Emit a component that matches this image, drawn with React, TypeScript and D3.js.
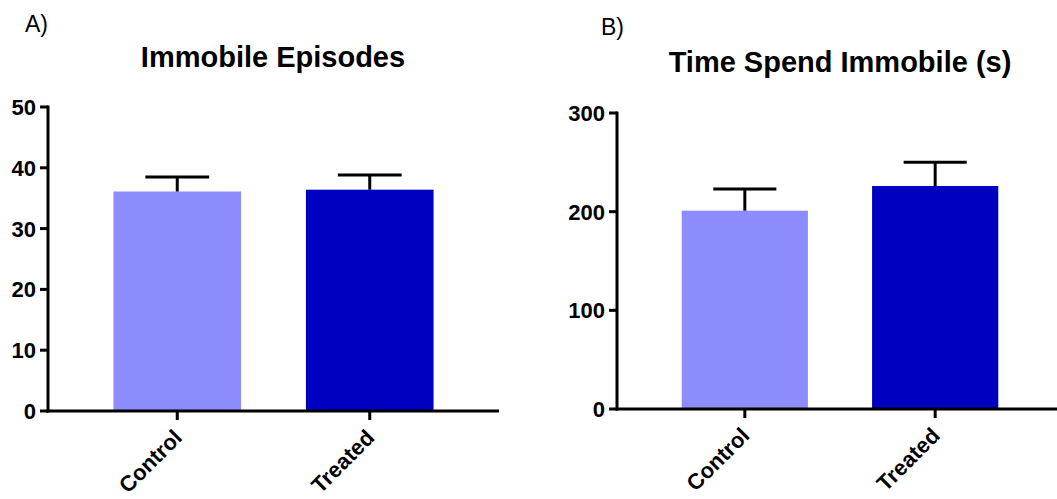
import React from "react";
import { scaleBand, scaleLinear } from "d3";

const groups = ["Control", "Treated"];
const colors = ["#8c8cff", "#0000c0"];

// panel A: immobile episodes
const episodesMean = [36.1, 36.4];
const episodesErr = [2.4, 2.4];
const episodesTicks = [0, 10, 20, 30, 40, 50];

// panel B: time spent immobile (s)
const timeMean = [201, 226];
const timeErr = [22, 24];
const timeTicks = [0, 100, 200, 300];

const W = 1057;
const H = 499;
const FONT = "Liberation Sans, Arial, Helvetica, sans-serif";

type PanelProps = {
  letter: string;
  letterX: number;
  letterY: number;
  title: string;
  titleX: number;
  titleY: number;
  means: number[];
  errs: number[];
  ticks: number[];
  yTop: number;
  yBottom: number;
  xLeft: number;
  xRight: number;
};

const Panel = (p: PanelProps) => {
  const max = p.ticks[p.ticks.length - 1];
  const y = scaleLinear().domain([0, max]).range([p.yBottom, p.yTop]);
  const x = scaleBand()
    .domain(groups)
    .range([p.xLeft, p.xRight])
    .paddingInner(0.337)
    .paddingOuter(0.34);
  const bw = x.bandwidth();

  return (
    <g>
      <text x={p.letterX} y={p.letterY} fontSize={23} fontFamily={FONT}>
        {p.letter}
      </text>
      <text
        x={p.titleX}
        y={p.titleY}
        fontSize={29}
        fontWeight="bold"
        fontFamily={FONT}
        textAnchor="middle"
      >
        {p.title}
      </text>

      {/* bars */}
      {groups.map((g, i) => (
        <rect
          key={g}
          x={x(g)}
          y={y(p.means[i])}
          width={bw}
          height={y(0) - y(p.means[i])}
          fill={colors[i]}
        />
      ))}

      {/* error bars, upper only */}
      {groups.map((g, i) => {
        const cx = (x(g) as number) + bw / 2;
        const top = y(p.means[i] + p.errs[i]);
        return (
          <g key={g} stroke="#000" strokeWidth={3}>
            <line x1={cx} x2={cx} y1={y(p.means[i])} y2={top} />
            <line x1={cx - bw / 4} x2={cx + bw / 4} y1={top} y2={top} />
          </g>
        );
      })}

      {/* y axis */}
      <line
        x1={p.xLeft}
        x2={p.xLeft}
        y1={y(max) - 1.5}
        y2={y(0) + 1.5}
        stroke="#000"
        strokeWidth={3}
      />
      {p.ticks.map((t) => (
        <g key={t}>
          <line
            x1={p.xLeft - 8}
            x2={p.xLeft}
            y1={y(t)}
            y2={y(t)}
            stroke="#000"
            strokeWidth={3}
          />
          <text
            x={p.xLeft - 12}
            y={y(t)}
            dy="0.36em"
            textAnchor="end"
            fontSize={22}
            fontWeight="bold"
            fontFamily={FONT}
          >
            {t}
          </text>
        </g>
      ))}

      {/* x axis */}
      <line
        x1={p.xLeft - 1.5}
        x2={p.xRight}
        y1={y(0)}
        y2={y(0)}
        stroke="#000"
        strokeWidth={3}
      />
      {groups.map((g) => {
        const cx = (x(g) as number) + bw / 2;
        return (
          <g key={g}>
            <line
              x1={cx}
              x2={cx}
              y1={y(0)}
              y2={y(0) + 9}
              stroke="#000"
              strokeWidth={3}
            />
            <text
              transform={`translate(${cx + 6},${y(0) + 28}) rotate(-45)`}
              textAnchor="end"
              fontSize={22}
              fontWeight="bold"
              fontFamily={FONT}
            >
              {g}
            </text>
          </g>
        );
      })}
    </g>
  );
};

export default function App() {
  return (
    <div style={{ position: "absolute", left: 0, top: 0 }}>
      <svg width={W} height={H} style={{ display: "block", background: "#fff" }}>
        <Panel
          letter="A)"
          letterX={25}
          letterY={32}
          title="Immobile Episodes"
          titleX={273}
          titleY={67}
          means={episodesMean}
          errs={episodesErr}
          ticks={episodesTicks}
          yTop={107}
          yBottom={411}
          xLeft={48}
          xRight={499}
        />
        <Panel
          letter="B)"
          letterX={601}
          letterY={35}
          title="Time Spend Immobile (s)"
          titleX={840}
          titleY={72}
          means={timeMean}
          errs={timeErr}
          ticks={timeTicks}
          yTop={113}
          yBottom={409}
          xLeft={617}
          xRight={1063}
        />
      </svg>
    </div>
  );
}
